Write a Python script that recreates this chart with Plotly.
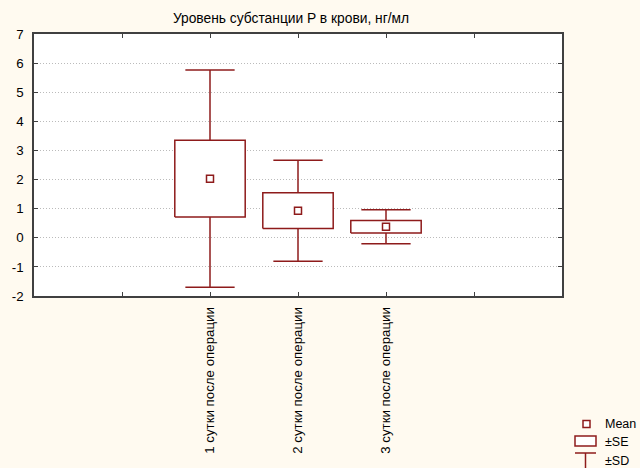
import plotly.graph_objects as go

categories = ["1 сутки после операции", "2 сутки после операции", "3 сутки после операции"]
positions = [2, 3, 4]
means = [2.03, 0.93, 0.38]
se = [1.32, 0.615, 0.215]
sd = [3.73, 1.735, 0.585]
y_ticks = [-2, -1, 0, 1, 2, 3, 4, 5, 6, 7]
y_ticklabels = ["-2", "-1", "0", "1", "2", "3", "4", "5", "6", "7"]

RED = "#8E1B1B"
FONT = "Arial, Liberation Sans, sans-serif"
FS = 13.3
BOX_HALF = 0.4
CAP_HALF = 0.28

q1 = [m - s for m, s in zip(means, se)]
q3 = [m + s for m, s in zip(means, se)]
lo = [m - s for m, s in zip(means, sd)]
hi = [m + s for m, s in zip(means, sd)]

wx, wy = [], []
for p, a, b, c, d in zip(positions, lo, q1, q3, hi):
    wx += [p, p, None, p, p, None, p - CAP_HALF, p + CAP_HALF, None, p - CAP_HALF, p + CAP_HALF, None]
    wy += [a, b, None, c, d, None, a, a, None, d, d, None]

bx, by = [], []
for p, a, b in zip(positions, q1, q3):
    bx += [p - BOX_HALF, p + BOX_HALF, p + BOX_HALF, p - BOX_HALF, p - BOX_HALF, None]
    by += [a, a, b, b, a, None]

fig = go.Figure()
fig.add_trace(go.Scatter(x=wx, y=wy, mode="lines", line=dict(color=RED, width=1.5),
                         hoverinfo="skip", showlegend=False))
fig.add_trace(go.Scatter(x=bx, y=by, mode="lines", fill="toself", fillcolor="white",
                         line=dict(color=RED, width=1.5), hoverinfo="skip", showlegend=False))
fig.add_trace(go.Scatter(
    x=positions, y=means, mode="markers",
    marker=dict(symbol="square", size=7, color="white", line=dict(color=RED, width=1.5)),
    showlegend=False,
))

L, R, T, B = 34, 562, 34, 296
def px(x):
    return (x - L) / (R - L)
def py(y):
    return (B - y) / (B - T)

shapes = []
shapes.append(dict(type="rect", xref="paper", yref="paper", x0=px(583), x1=px(590), y0=py(420.5), y1=py(427.5),
                   line=dict(color=RED, width=1.5), fillcolor="white"))
shapes.append(dict(type="rect", xref="paper", yref="paper", x0=px(575), x1=px(596), y0=py(436), y1=py(446),
                   line=dict(color=RED, width=1.5), fillcolor="white"))
shapes.append(dict(type="line", xref="paper", yref="paper", x0=px(575), x1=px(596), y0=py(453), y1=py(453),
                   line=dict(color=RED, width=1.5)))
shapes.append(dict(type="line", xref="paper", yref="paper", x0=px(585.5), x1=px(585.5), y0=py(453), y1=py(468),
                   line=dict(color=RED, width=1.5)))

annotations = []
for label, yy in [("Mean", 424), ("±SE", 442), ("±SD", 461)]:
    annotations.append(dict(text=label, xref="paper", yref="paper", x=px(603), y=py(yy),
                            xanchor="left", yanchor="middle", showarrow=False,
                            font=dict(family=FONT, size=12.5, color="black")))

fig.update_layout(
    width=640, height=468,
    margin=dict(l=L, r=640 - R, t=T, b=468 - B, pad=0, autoexpand=False),
    paper_bgcolor="#FFFAF0", plot_bgcolor="white",
    title=dict(text="Уровень субстанции P в крови, нг/мл", x=px(291), xref="paper", xanchor="center",
               y=1 - 18 / 468, yanchor="middle", font=dict(family=FONT, size=13.8, color="black")),
    font=dict(family=FONT, size=FS, color="black"),
    shapes=shapes, annotations=annotations,
    xaxis=dict(range=[0, 6], tickvals=[0, 1, 2, 3, 4, 5, 6],
               ticktext=["", ""] + categories + ["", ""], automargin=False,
               tickangle=-90, ticks="inside", ticklen=4, tickcolor="#404040",
               ticklabelstandoff=4,
               showgrid=False, zeroline=False, showline=True, linecolor="#404040", linewidth=1.5,
               mirror="ticks", tickfont=dict(size=FS)),
    yaxis=dict(range=[-2, 7], tickvals=y_ticks, ticktext=y_ticklabels, automargin=False,
               ticks="inside", ticklen=4, tickcolor="#404040", ticklabelstandoff=6,
               showgrid=True, gridcolor="#BBBBBB", griddash="1px,2px", gridwidth=1,
               zeroline=False, showline=True, linecolor="#404040", linewidth=1.5,
               mirror="ticks", tickfont=dict(size=FS)),
)

fig.write_html("out.html", config={"displayModeBar": False},
               post_script="document.body.style.margin='0';document.body.style.background='#FFFAF0';")
